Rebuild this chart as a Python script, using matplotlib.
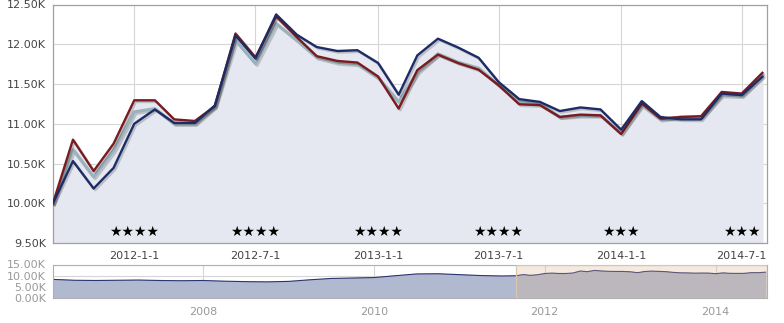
import datetime as dt
import matplotlib
matplotlib.use('Agg')
import matplotlib.pyplot as plt
import matplotlib.dates as mdates
import matplotlib.patheffects as pe
from matplotlib.ticker import FuncFormatter

# monthly growth-of-10K values, 2011-09 .. 2014-08
months = [dt.date(2011 + (8 + i) // 12, (8 + i) % 12 + 1, 1) for i in range(36)]
navy = [10000, 10530, 10185, 10445, 11000, 11180, 11010, 11010, 11230,
        12110, 11820, 12375, 12120, 11965, 11915, 11925, 11765, 11365,
        11860, 12070, 11960, 11830, 11525, 11310, 11275, 11160, 11205,
        11180, 10925, 11285, 11085, 11055, 11055, 11380, 11360, 11590]
red = [10000, 10800, 10405, 10750, 11295, 11295, 11055, 11035, 11220,
       12135, 11835, 12350, 12090, 11850, 11790, 11770, 11595, 11190,
       11675, 11870, 11765, 11680, 11485, 11245, 11235, 11085, 11115,
       11105, 10870, 11255, 11065, 11085, 11095, 11400, 11380, 11640]
teal = [10000, 10675, 10330, 10665, 11150, 11190, 11000, 11000, 11215,
        12050, 11755, 12260, 12050, 11835, 11770, 11750, 11580, 11275,
        11650, 11880, 11775, 11700, 11485, 11275, 11255, 11085, 11105,
        11105, 10885, 11235, 11055, 11085, 11085, 11360, 11350, 11610]

tick_dates = [dt.date(2012, 1, 1), dt.date(2012, 7, 1), dt.date(2013, 1, 1),
              dt.date(2013, 7, 1), dt.date(2014, 1, 1), dt.date(2014, 7, 1)]
tick_labels = ['2012-1-1', '2012-7-1', '2013-1-1', '2013-7-1', '2014-1-1', '2014-7-1']
stars = [4, 4, 4, 4, 3, 3]

# navigator history before the selected range (quarterly)
nav_hist_dates = ['2006-04-01', '2006-07-01', '2006-10-01', '2007-01-01', '2007-04-01',
                  '2007-07-01', '2007-10-01', '2008-01-01', '2008-04-01', '2008-07-01',
                  '2008-10-01', '2009-01-01', '2009-04-01', '2009-07-01', '2009-10-01',
                  '2010-01-01', '2010-04-01', '2010-07-01', '2010-10-01', '2011-01-01',
                  '2011-04-01', '2011-07-01']
nav_hist_vals = [8400, 8000, 7900, 8000, 8100, 7900, 7800, 7900, 7600, 7400,
                 7300, 7500, 8200, 8800, 9000, 9200, 10000, 10800, 10900, 10500,
                 10100, 9900]

x0 = dt.date(2011, 9, 1)
x1 = dt.date(2014, 8, 8)
nx0 = dt.date(2006, 4, 1)

grid_c = '#d6d6d6'
frame_c = '#a0a0a0'

fig = plt.figure(figsize=(7.84, 3.23), dpi=100)
W, H = 784, 323

def box(l, t, r, b):
    return [l / W, 1 - b / H, (r - l) / W, (b - t) / H]

ax = fig.add_axes(box(53, 4.5, 767, 243))
top = [max(a, b, c) for a, b, c in zip(navy, red, teal)]
ax.fill_between(months, 9500, top, color='#e5e8f0', zorder=1)

shadow = [pe.SimpleLineShadow(offset=(1.2, -1.2), shadow_color='black', alpha=0.18), pe.Normal()]
ax.plot(months, teal, color='#9bb2bc', lw=2.2, zorder=3, path_effects=shadow)
ax.plot(months, red, color='#7a1b1f', lw=1.7, zorder=4, path_effects=shadow)
ax.plot(months, navy, color='#1d2c66', lw=1.7, zorder=5, path_effects=shadow)

ax.set_xlim(x0, x1)
ax.set_ylim(9500, 12500)
ax.set_yticks(range(9500, 12501, 500))
ax.yaxis.set_major_formatter(FuncFormatter(lambda v, p: f'{v / 1000:.2f}K'))
ax.set_xticks(tick_dates)
ax.set_xticklabels(tick_labels)
ax.tick_params(axis='both', length=0, labelsize=8, colors='#444444')
ax.tick_params(axis='x', pad=6)
ax.tick_params(axis='y', pad=5)
ax.grid(True, color=grid_c, lw=0.8)
ax.set_axisbelow(True)
for s in ax.spines.values():
    s.set_color(frame_c)
    s.set_linewidth(0.9)

for d, n in zip(tick_dates, stars):
    ax.text(d, 0.045, '\u2605' * n, transform=ax.get_xaxis_transform(),
            ha='center', va='center', fontsize=10, color='black', zorder=6)

# navigator
nav = fig.add_axes(box(53, 264.5, 767, 298.3))
nav_dates = [dt.date.fromisoformat(s) for s in nav_hist_dates] + months
nav_vals = nav_hist_vals + navy
nav.fill_between(nav_dates, 0, nav_vals, color='#b1b9d0', zorder=1)
nav.plot(nav_dates, nav_vals, color='#2a3670', lw=0.8, zorder=2)
nav.axvspan(x0, x1, facecolor='#ddb58d', alpha=0.27, edgecolor='none', zorder=3)
nav.axvspan(x0, x1, facecolor='none', edgecolor='#d9c7ad', lw=0.9, zorder=4)
nav.set_xlim(nx0, x1)
nav.set_ylim(0, 15000)
nav.set_yticks(range(0, 15001, 5000))
nav.yaxis.set_major_formatter(FuncFormatter(lambda v, p: f'{v / 1000:.2f}K'))
nav.xaxis.set_major_locator(mdates.YearLocator(2))
nav.xaxis.set_major_formatter(mdates.DateFormatter('%Y'))
nav.tick_params(axis='both', length=0, labelsize=8, colors='#999999')
nav.tick_params(axis='x', pad=6)
nav.tick_params(axis='y', pad=5)
nav.grid(True, color=grid_c, lw=0.8)
nav.set_axisbelow(True)
for s in nav.spines.values():
    s.set_color('#b0b0b0')
    s.set_linewidth(0.8)

fig.savefig('out.png', dpi=100)
